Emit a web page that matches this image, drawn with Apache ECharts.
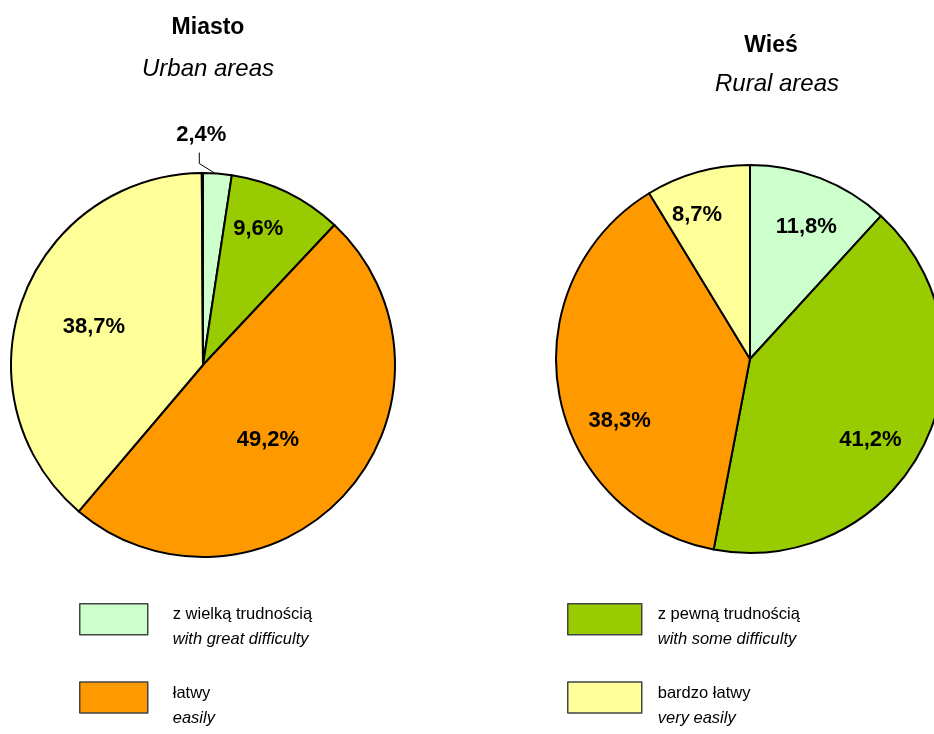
<!DOCTYPE html>
<html>
<head>
<meta charset="utf-8">
<script src="https://cdn.jsdelivr.net/npm/echarts@6/dist/echarts.min.js"></script>
<style>
  html, body { margin: 0; padding: 0; background: #fff; }
  #chart { width: 934px; height: 734px; }
</style>
</head>
<body>
<div id="chart"></div>
<script>
const categories = ['z wielką trudnością', 'z pewną trudnością', 'łatwy', 'bardzo łatwy', 'brak danych'];
const categoriesEn = ['with great difficulty', 'with some difficulty', 'easily', 'very easily', ''];
const urbanValues = [2.4, 9.6, 49.2, 38.7, 0.1];
const ruralValues = [11.8, 41.2, 38.3, 8.7];
const titles = ['Miasto', 'Wieś'];
const subtitles = ['Urban areas', 'Rural areas'];

const colors = ['#CCFFCC', '#99CC00', '#FF9900', '#FFFF99', '#FFFFFF'];
const font = '"Liberation Sans", Arial, sans-serif';

// label nudges (px) per series / slice, to sit where the original had them
const labelShift = [
  [[-47, -29], [12, -47], [-9, 9], [-16, -4], [0, 0]],
  [[20, -39], [31, 36], [-32, 44], [-26, -48]]
];

const fmtPct = (v) => v.toFixed(1).replace('.', ',') + '%';

const toData = (values, outsideFirst) => values.map((v, i) => {
  const d = {
    name: categories[i],
    value: v,
    itemStyle: { color: colors[i] }
  };
  if (i === 4) d.label = { show: false };
  if (outsideFirst && i === 0) {
    d.label = { position: 'outside' };
    d.labelLine = { show: true, length: 10, length2: 0, lineStyle: { color: '#000', width: 1 } };
  }
  return d;
});

const enOf = (name) => categoriesEn[categories.indexOf(name)];

const legendCommon = (names, left, w, gap) => ({
  data: names,
  orient: 'vertical',
  left: left,
  top: 603,
  padding: 0,
  itemGap: 33,
  itemWidth: w,
  itemHeight: 31,
  icon: 'rect',
  selectedMode: false,
  itemStyle: { borderColor: '#444', borderWidth: 1.5 },
  formatter: (name) => '{a|' + name + '}\n{b|' + enOf(name) + '}',
  textStyle: {
    padding: [16, 0, 0, gap],
    rich: {
      a: { fontFamily: font, fontSize: 16.5, lineHeight: 25, color: '#000' },
      b: { fontFamily: font, fontSize: 16.5, lineHeight: 25, color: '#000', fontStyle: 'italic' }
    }
  }
});

const chart = echarts.init(document.getElementById('chart'));
chart.setOption({
  animation: false,
  backgroundColor: '#fff',
  title: [
    { text: titles[0], left: 208, top: 15, textAlign: 'center', padding: 0,
      textStyle: { fontFamily: font, fontSize: 23, fontWeight: 'bold', color: '#000', lineHeight: 26 } },
    { text: subtitles[0], left: 208, top: 56, textAlign: 'center', padding: 0,
      textStyle: { fontFamily: font, fontSize: 24, fontStyle: 'italic', fontWeight: 'normal', color: '#000', lineHeight: 26 } },
    { text: titles[1], left: 771, top: 33, textAlign: 'center', padding: 0,
      textStyle: { fontFamily: font, fontSize: 23, fontWeight: 'bold', color: '#000', lineHeight: 26 } },
    { text: subtitles[1], left: 777, top: 71, textAlign: 'center', padding: 0,
      textStyle: { fontFamily: font, fontSize: 24, fontStyle: 'italic', fontWeight: 'normal', color: '#000', lineHeight: 26 } }
  ],
  legend: [
    legendCommon([categories[0], categories[2]], 79, 68, 20),
    legendCommon([categories[1], categories[3]], 567, 74, 11)
  ],
  series: [urbanValues, ruralValues].map((vals, s) => ({
    type: 'pie',
    center: s === 0 ? [203, 365] : [750, 359],
    radius: s === 0 ? 192 : 194,
    startAngle: 90,
    clockwise: true,
    avoidLabelOverlap: false,
    silent: true,
    itemStyle: { borderColor: '#000', borderWidth: 2 },
    label: {
      position: 'inside',
      formatter: (p) => fmtPct(p.value),
      fontFamily: font,
      fontSize: 22,
      fontWeight: 'bold',
      color: '#000'
    },
    labelLine: { show: false },
    labelLayout: (p) => {
      const sh = labelShift[s][p.dataIndex] || [0, 0];
      const out = { dx: sh[0], dy: sh[1] };
      if (p.labelLinePoints && p.labelLinePoints.length) {
        // leader: from slice edge up-left, then straight up to below the text
        const r = p.labelRect;
        const cx = r.x + r.width / 2 + sh[0] - 2;
        const cy = r.y + r.height / 2 + sh[1];
        const edge = p.labelLinePoints[0];
        out.labelLinePoints = [[edge[0] - 2, edge[1]], [cx, cy + 29], [cx, cy + 18]];
      }
      return out;
    },
    data: toData(vals, s === 0)
  }))
});
</script>
</body>
</html>
